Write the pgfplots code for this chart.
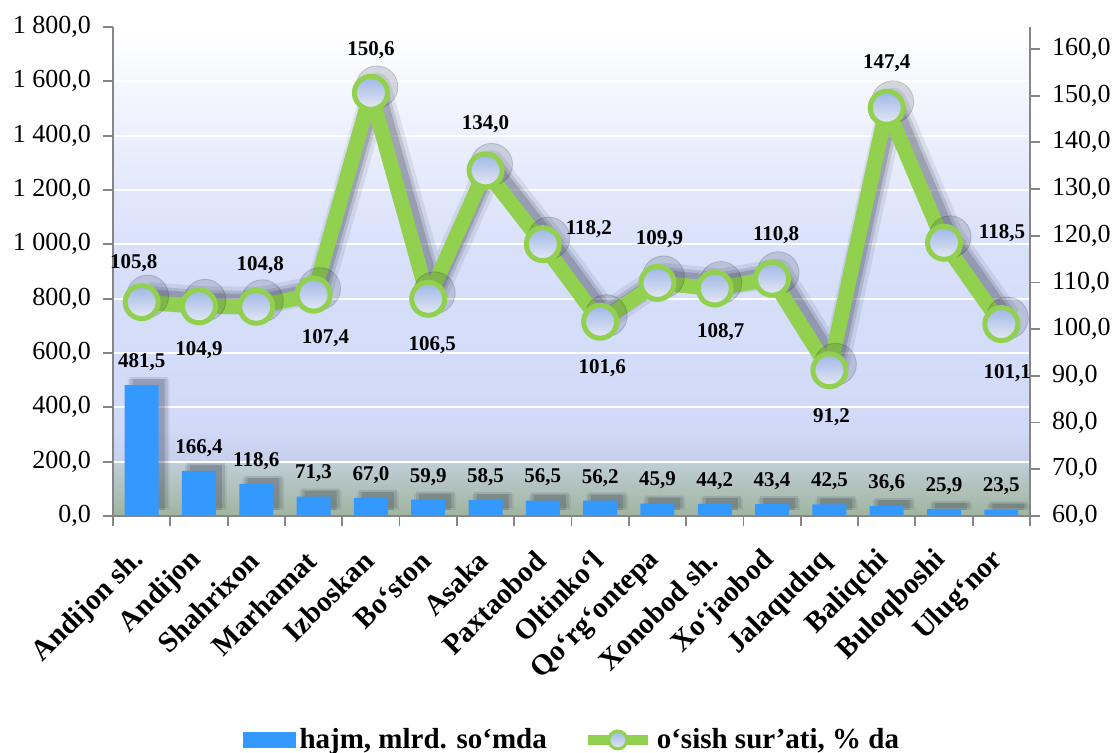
\documentclass[border=0pt]{standalone}
\usepackage{fontspec}
\setmainfont{Liberation Serif}
\usepackage{pgfplots}
\usepackage{pgfplotstable}
\pgfplotsset{compat=1.18}

\definecolor{barblue}{RGB}{51,153,255}
\definecolor{lgreen}{RGB}{146,208,80}
\definecolor{mtop}{RGB}{158,182,230}
\definecolor{mbot}{RGB}{230,234,244}
\definecolor{axgray}{RGB}{134,134,134}
\definecolor{shad}{RGB}{35,40,60}
\definecolor{bg0}{RGB}{160,180,160}
\definecolor{bg1}{RGB}{190,205,212}
\definecolor{bg2}{RGB}{198,208,236}
\definecolor{bg3}{RGB}{208,218,248}
\definecolor{bg4}{RGB}{216,224,250}

% 25bp = bottom of plot area, 75bp = top
\pgfdeclareverticalshading{plotbg}{100bp}{color(0bp)=(bg0); color(25bp)=(bg0);
  color(30.3bp)=(bg1); color(30.6bp)=(bg2); color(34bp)=(bg3);
  color(52bp)=(bg4); color(75bp)=(white); color(100bp)=(white)}

\pgfplotstableread{
x bar rate dx dy
0 481.5 105.8 -4 19.5
1 166.4 104.9 0 -22
2 118.6 104.8 2 21
3 71.3 107.4 6 -22
4 67.0 150.6 0 21.5
5 59.9 106.5 2 -23
6 58.5 134.0 0 23
7 56.5 118.2 23 7.5
8 56.2 101.6 1 -23
9 45.9 109.9 1 22
10 44.2 108.7 3 -22
11 43.4 110.8 2 22
12 42.5 91.2 1 -23.5
13 36.6 147.4 0 22.5
14 25.9 118.5 29 5
15 23.5 101.1 3 -24.5
}\data

\tikzset{
  numfmt/.style={/pgf/number format/fixed, /pgf/number format/fixed zerofill,
    /pgf/number format/precision=1, /pgf/number format/use comma,
    /pgf/number format/1000 sep={\ }, /pgf/number format/assume math mode=true},
  lblfont/.style={font=\fontsize{10.5}{12}\bfseries\selectfont},
}
\pgfplotsset{
  common/.style={at={(0,0)}, anchor=south west, scale only axis,
    width=458.5pt, height=244.5pt, xmin=-0.5, xmax=15.5,
    axis line style={axgray, line width=0.9pt},
    tick style={axgray, line width=0.9pt}, tick align=outside,
    major tick length=5pt, minor tick length=5pt,
    tick label style={font=\fontsize{13}{15}\selectfont, black},
    scaled y ticks=false},
}

\begin{document}
\begin{tikzpicture}
\begin{axis}[common,
  ymin=0, ymax=1800, ytick={0,200,...,1800},
  axis x line*=bottom, axis y line*=left,
  axis background/.style={shade, shading=plotbg},
  ymajorgrids, grid style={white, line width=1pt},
  yticklabel style={numfmt, anchor=east, xshift=-2.5pt},
  xtick={0,...,15},
  xticklabels={Andijon sh., Andijon, Shahrixon, Marhamat, Izboskan, Bo‘ston, Asaka,
    Paxtaobod, Oltinko‘l, Qo‘rg‘ontepa, Xonobod sh., Xo‘jaobod, Jalaquduq,
    Baliqchi, Buloqboshi, Ulug‘nor},
  xticklabel style={xshift=-1pt, yshift=-15pt, rotate=45, anchor=east, inner sep=0pt,
    font=\fontsize{14.5}{16}\bfseries\selectfont},
  minor xtick={-0.5,0.5,...,15.5},
  major x tick style={draw=none},
]
% bar shadows
\addplot[ybar, bar width=21pt, bar shift=0pt, fill=shad, draw=none, opacity=0.08,
  xshift=3.5pt, yshift=3pt] table[x=x,y=bar]{\data};
\addplot[ybar, bar width=19pt, bar shift=0pt, fill=shad, draw=none, opacity=0.13,
  xshift=3.5pt, yshift=4pt] table[x=x,y=bar]{\data};
\addplot[ybar, bar width=16pt, bar shift=0pt, fill=shad, draw=none, opacity=0.18,
  xshift=3.5pt, yshift=3pt] table[x=x,y=bar]{\data};
% bars
\addplot[ybar, bar width=17pt, bar shift=0pt, fill=barblue, draw=none,
  point meta=y, nodes near coords,
  every node near coord/.append style={numfmt, lblfont, black, anchor=center, yshift=11.5pt}]
  table[x=x,y=bar]{\data};
\end{axis}

\begin{axis}[common,
  ymin=60, ymax=164.7, ytick={60,70,...,160},
  axis x line=none, axis y line*=right,
  yticklabel style={numfmt, anchor=west, xshift=2.5pt},
  legend style={at={(0.1345,-0.458)}, anchor=west, draw=none, fill=none,
    legend columns=2, font=\fontsize{14.5}{16}\bfseries\selectfont,
    /tikz/every even column/.append style={column sep=16pt}},
  legend cell align=left,
]
% line shadow
\addplot[forget plot, shad, opacity=0.09, line width=14pt, line join=round,
  xshift=3pt, yshift=3pt] table[x=x,y=rate]{\data};
\addplot[forget plot, shad, opacity=0.14, line width=10pt, line join=round,
  xshift=3pt, yshift=3pt] table[x=x,y=rate]{\data};
\addplot[forget plot, shad, opacity=0.2, line width=7pt, line join=round,
  xshift=3pt, yshift=3pt] table[x=x,y=rate]{\data};
\addplot[forget plot, only marks, mark=*, mark size=10.5pt,
  mark options={fill=shad, draw=none, opacity=0.16}, xshift=3pt, yshift=3pt]
  table[x=x,y=rate]{\data};
% line
\addplot[forget plot, lgreen, line width=7.5pt, line join=round]
  table[x=x,y=rate]{\data};
% markers
\addplot[forget plot, draw=none, nodes near coords={},
  every node near coord/.append style={circle, anchor=center, inner sep=0pt,
    minimum size=16.5pt, draw=lgreen, line width=2.5pt,
    top color=mtop, bottom color=mbot}]
  table[x=x,y=rate]{\data};
% labels
\addplot[forget plot, draw=none, point meta=y, nodes near coords,
  visualization depends on={\thisrow{dx} \as \ldx},
  visualization depends on={\thisrow{dy} \as \ldy},
  every node near coord/.append style={numfmt, lblfont, black, anchor=center,
    xshift=\ldx pt, yshift=\ldy pt}]
  table[x=x,y=rate]{\data};

\addlegendimage{legend image code/.code={\fill[barblue] (0pt,-3.7pt) rectangle (26pt,3.7pt);}}
\addlegendentry{hajm, mlrd. so‘mda}
\addlegendimage{legend image code/.code={\draw[lgreen, line width=5pt] (0pt,0pt) -- (30pt,0pt);
  \draw[lgreen, line width=1.5pt, top color=mtop, bottom color=mbot] (15pt,0pt) circle (4.5pt);}}
\addlegendentry{o‘sish sur’ati, \% da}
\end{axis}
\pgfresetboundingbox
\path[use as bounding box] (-56.5pt,-118.5pt) rectangle (501.5pt,258pt);
\end{tikzpicture}
\end{document}
